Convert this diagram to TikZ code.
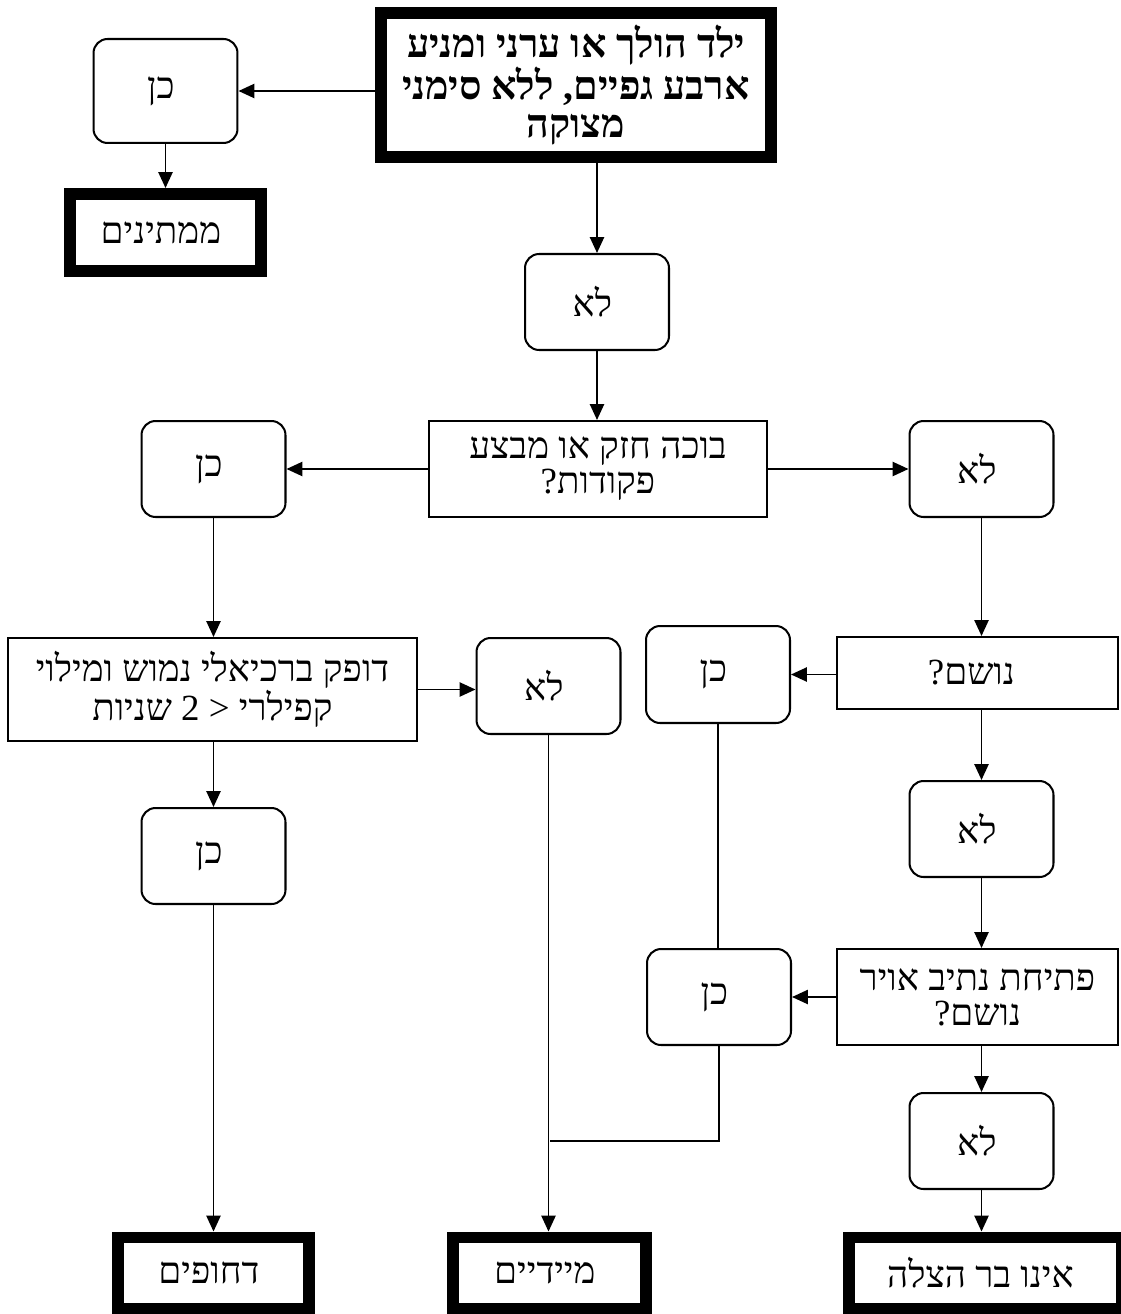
\documentclass[tikz,border=0pt]{standalone}
\usepackage{fontspec}
\usetikzlibrary{arrows,arrows.meta,positioning}
\newfontfamily\hebfont[Script=Hebrew]{Liberation Serif}
\TeXXeTstate=1
\newcommand{\rl}[1]{\beginR #1\endR}

\begin{document}
\begin{tikzpicture}[x=0.02cm, y=-0.02cm,
    >={Triangle[length=9pt,width=8pt]},
    link/.style={line width=1.1pt},
    answer/.style={rounded corners=8pt, minimum width=2.88cm, minimum height=1.92cm},
    question/.style={minimum height=1.92cm},
    outcome/.style={line width=6.8pt, minimum height=1.42cm},
    every node/.style={
    rectangle,
    draw,
    line width=1.15pt,
    inner sep=3pt,
    align=center,
    font=\hebfont\fontsize{21}{20}\selectfont
}]
    \useasboundingbox (0,0) rectangle (1120,1314);

    \node (top) [line width=6.8pt, minimum width=7.8cm, minimum height=2.88cm,
        font=\hebfont\bfseries\fontsize{22.5}{21.3}\selectfont, shift={(576,85)}]
    {
        \rl{ילד הולך או ערני ומניע}\\
        \rl{ארבע גפיים\kern0pt, ללא סימני}\\
        \rl{מצוקה}
    };
    \node (yes0) [answer, minimum height=2.08cm, shift={(165.5,91)}]
    {
        \rl{כן}
    };
    \node (wait) [outcome, minimum width=3.82cm, minimum height=1.54cm, shift={(165.5,232.5)}]
    {
        \rl{ממתינים}
    };
    \node (no1) [answer, shift={(597,302)}]
    {
        \rl{לא}
    };


    \node (crying) [question, minimum width=6.76cm, shift={(598,469)}]
    {
        \rl{בוכה חזק או מבצע}\\
        \rl{פקודות\kern0pt?}
    };
    \node (yes1) [answer, shift={(213.5,469)}]
    {
        \rl{כן}
    };
    \node (no2) [answer, shift={(981.5,469)}]
    {
        \rl{לא}
    };


    \node (pulse) [question, minimum width=8.18cm, minimum height=2.06cm,
        font=\hebfont\fontsize{21}{22.5}\selectfont, shift={(212.5,689.5)}]
    {
        \rl{דופק ברכיאלי נמוש ומילוי}\\
        \rl{קפילרי < 2 שניות}
    };
    \node (no3) [answer, shift={(548.5,686)}]
    {
        \rl{לא}
    };
    \node (yes4) [answer, shift={(213.5,856)}]
    {
        \rl{כן}
    };


    \node (breathing) [question, minimum width=5.62cm, minimum height=1.44cm, shift={(977.5,673)}]
    {
        \rl{נושם\kern0pt?}
    };
    \node (yes2) [answer, minimum height=1.94cm, shift={(718,674.5)}]
    {
        \rl{כן}
    };
    \node (no4) [answer, shift={(981.5,829)}]
    {
        \rl{לא}
    };
    \node (airway) [question, minimum width=5.62cm, shift={(977.5,997)}]
    {
        \rl{פתיחת נתיב אויר}\\
        \rl{נושם\kern0pt?}
    };
    \node (yes3) [answer, shift={(719,997)}]
    {
        \rl{כן}
    };
    \node (no5) [answer, shift={(981.5,1141)}]
    {
        \rl{לא}
    };


    \node (urgent) [outcome, minimum width=3.83cm, shift={(213.5,1273)}]
    {
        \rl{דחופים}
    };
    \node (immediate) [outcome, minimum width=3.86cm, shift={(549.5,1273)}]
    {
        \rl{מיידיים}
    };
    \node (expectant) [outcome, minimum width=5.46cm, shift={(985,1273)}]
    {
        \rl{אינו בר הצלה}
    };

    \coordinate (join) at (549.5,1141);

    \draw[->, link] (top.west |- yes0.east) to (yes0.east);
    \draw[->, link] (yes0.south) to (wait.north);
    \draw[->, link] (top.south -| no1.north) to (no1.north);
    \draw[->, link] (no1.south) to (no1.south |- crying.north);

    \draw[->, link] (crying.west) to (yes1.east);
    \draw[->, link] (crying.east) to (no2.west);

    \draw[->, link] (yes1.south) to (yes1.south |- pulse.north);
    \draw[->, link] (pulse.east) to (pulse.east -| no3.west);
    \draw[->, link] (pulse.south -| yes4.north) to (yes4.north);
    \draw[->, link] (yes4.south) to (yes4.south |- urgent.north);
    \draw[->, link] (no3.south) to (no3.south |- immediate.north);

    \draw[->, link] (no2.south) to (no2.south |- breathing.north);
    \draw[->, link] (breathing.west |- yes2.east) to (yes2.east);
    \draw[link] (yes2.south) to (yes2.south |- yes3.north);
    \draw[->, link] (breathing.south -| no4.north) to (no4.north);
    \draw[->, link] (no4.south) to (no4.south |- airway.north);
    \draw[->, link] (airway.west) to (airway.west -| yes3.east);
    \draw[link] (yes3.south) |- (join);
    \draw[->, link] (airway.south -| no5.north) to (no5.north);
    \draw[->, link] (no5.south) to (no5.south |- expectant.north);
\end{tikzpicture}
\end{document}
